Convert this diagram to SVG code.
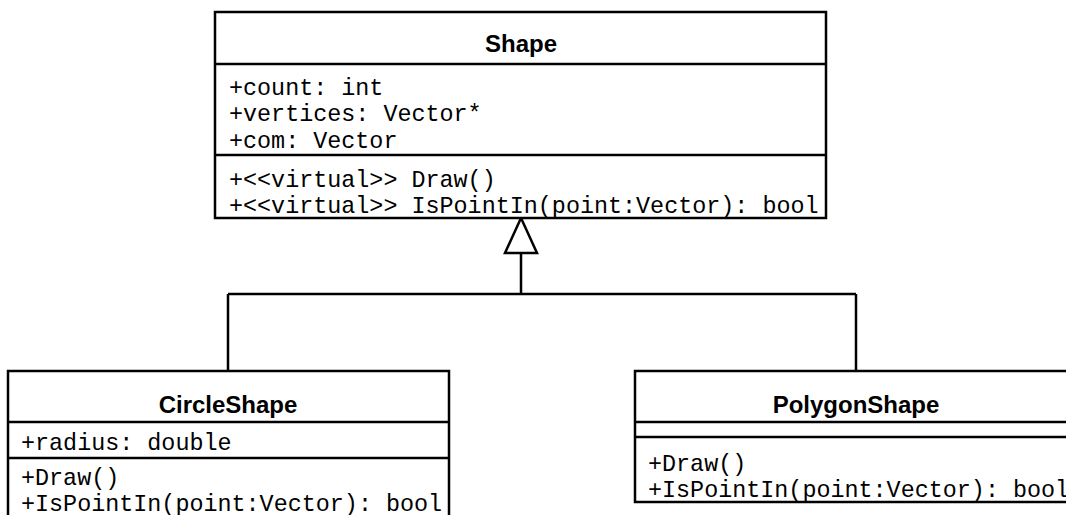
<svg xmlns="http://www.w3.org/2000/svg" width="1066" height="515" viewBox="0 0 1066 515">
<style>
.box{fill:#fff;stroke:#000;stroke-width:2.5}
.ln{fill:none;stroke:#000;stroke-width:2.5}
.t{font-family:"Liberation Sans",Arial,sans-serif;font-weight:bold;font-size:24px;text-anchor:middle;fill:#000}
.m{font-family:"Liberation Mono","Courier New",monospace;font-size:23.4px;fill:#000}
</style>
<rect width="1066" height="515" fill="#fff"/>
<g id="connectors">
<path class="ln" d="M521 253 V294 M228 294 H856 M228 294 V371 M856 294 V371"/>
<polygon class="box" points="521,218 505,253 537,253"/>
</g>
<g id="Shape">
<rect class="box" x="215" y="12" width="611" height="206"/>
<path class="ln" d="M215 64 H826 M215 155 H826"/>
<text class="t" x="521" y="52">Shape</text>
<text class="m" x="229" y="95">+count: int</text>
<text class="m" x="229" y="121">+vertices: Vector*</text>
<text class="m" x="229" y="148">+com: Vector</text>
<text class="m" x="229" y="187">+&lt;&lt;virtual&gt;&gt; Draw()</text>
<text class="m" x="229" y="213">+&lt;&lt;virtual&gt;&gt; IsPointIn(point:Vector): bool</text>
</g>
<g id="CircleShape">
<rect class="box" x="8" y="371" width="441" height="200"/>
<path class="ln" d="M8 422 H449 M8 458 H449"/>
<text class="t" x="228" y="413">CircleShape</text>
<text class="m" x="21" y="450">+radius: double</text>
<text class="m" x="21" y="485">+Draw()</text>
<text class="m" x="21" y="511">+IsPointIn(point:Vector): bool</text>
</g>
<g id="PolygonShape">
<rect class="box" x="635" y="371" width="450" height="131"/>
<path class="ln" d="M635 422 H1085 M635 437 H1085"/>
<text class="t" x="856" y="413">PolygonShape</text>
<text class="m" x="648" y="471">+Draw()</text>
<text class="m" x="648" y="497">+IsPointIn(point:Vector): bool</text>
</g>
</svg>
